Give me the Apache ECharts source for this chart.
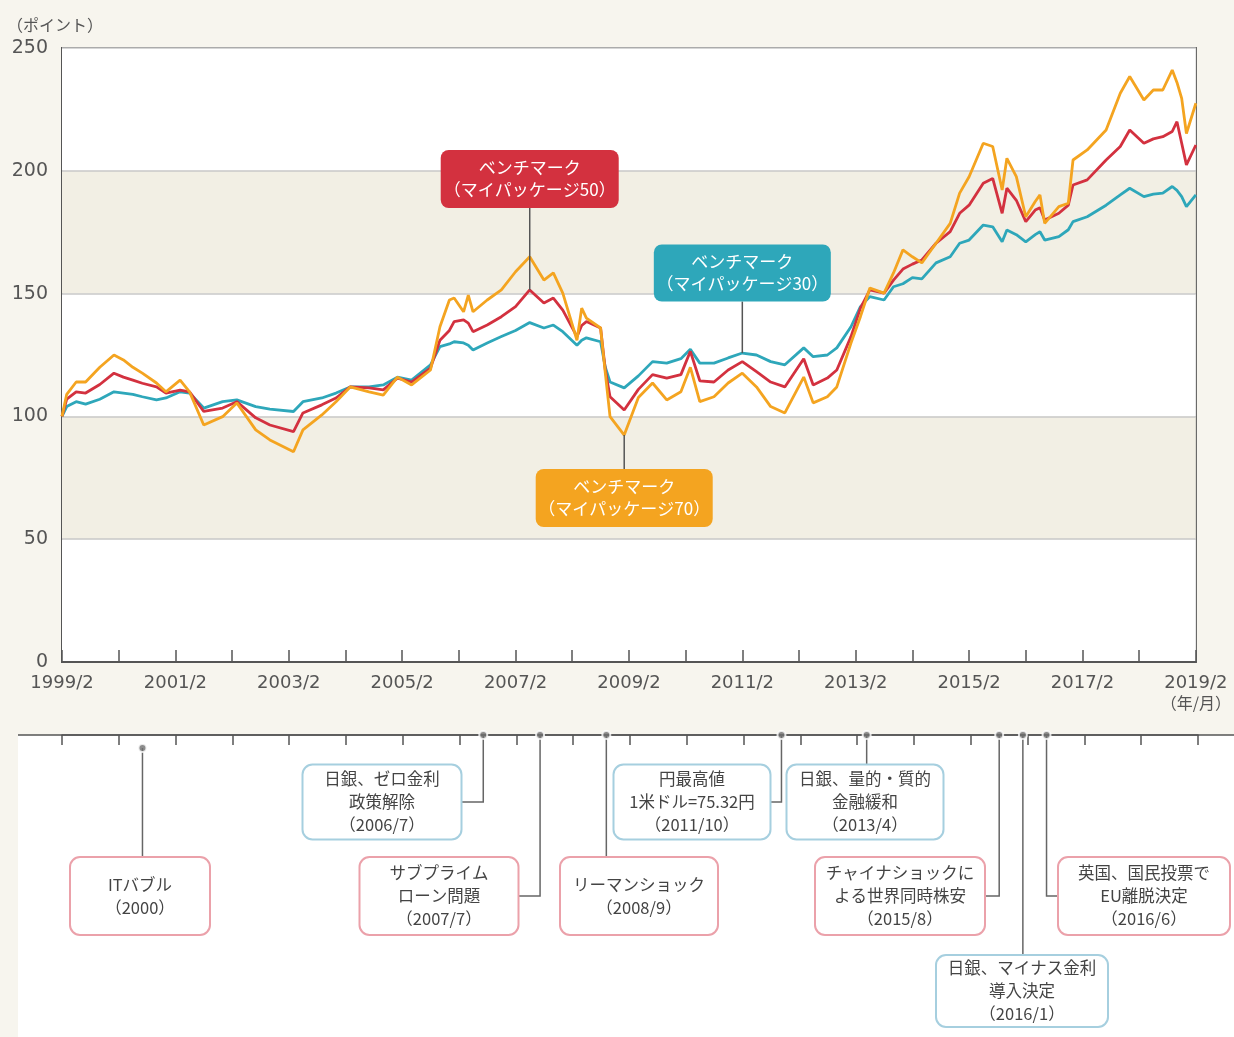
<!DOCTYPE html>
<html>
<head>
<meta charset="utf-8">
<script src="https://cdn.jsdelivr.net/npm/echarts@6/dist/echarts.min.js"></script>
<style>
html, body { margin: 0; padding: 0; background: #f7f5ee; }
#main { width: 1234px; height: 1037px; }
</style>
</head>
<body>
<div id="main"></div>
<script>
// 月次(読み取り)データ
const dates = [
  '1999/2','1999/3','1999/5','1999/7','1999/10','2000/1','2000/3','2000/5','2000/7','2000/10',
  '2000/12','2001/3','2001/5','2001/8','2001/12','2002/3','2002/7','2002/10','2003/3','2003/5',
  '2003/9','2003/12','2004/3','2004/7','2004/10','2005/1','2005/4','2005/8','2005/10','2005/12',
  '2006/1','2006/3','2006/4','2006/5','2006/8','2006/11','2007/2','2007/5','2007/8','2007/10',
  '2007/12','2008/3','2008/4','2008/5','2008/8','2008/9','2008/10','2009/1','2009/4','2009/7',
  '2009/10','2010/1','2010/3','2010/5','2010/8','2010/11','2011/2','2011/5','2011/8','2011/11',
  '2012/3','2012/5','2012/8','2012/10','2013/1','2013/3','2013/5','2013/8','2013/10','2013/12',
  '2014/2','2014/4','2014/7','2014/10','2014/12','2015/2','2015/5','2015/7','2015/9','2015/10',
  '2015/12','2016/2','2016/4','2016/5','2016/6','2016/9','2016/11','2016/12','2017/3','2017/7',
  '2017/10','2017/12','2018/3','2018/5','2018/7','2018/9','2018/10','2018/11','2018/12','2019/2'
]
const mp30 = [
  100,104,106,105,107,110,109.5,109,108,106.7,
  107.5,110,109.5,103.4,106,106.7,104,103,102,106,
  107.5,109.5,112,112,112.8,116,114.8,121,128.4,129.5,
  130.4,129.9,129,127,129.9,132.5,135,138.2,136,137.2,
  134.5,129,131,132,130.4,120,114,111.6,116.5,122.3,
  121.7,123.5,127.3,121.7,121.7,123.8,125.8,125,122.3,121,
  127.9,124.3,125,127.9,136.5,144.7,148.8,147.4,152.8,154,
  156.5,156,162.5,165,170.5,171.8,177.9,177.2,171.1,175.9,
  174,171.1,174,175.2,171.8,173.2,176,179.3,181.3,186,
  190.2,192.9,189.5,190.5,190.9,193.6,192,189.5,185.4,190.2
]
const mp50 = [
  100,107,110,109.5,113,117.6,116,114.8,113.5,112,
  109.5,110.7,110,102,103.4,106,99.4,96.5,93.8,101.4,
  104.7,107.5,112,111.6,110.8,115.6,114,119.7,131,135,
  138.6,139.3,138,134.5,137.2,140.6,144.7,151.5,146.2,148.2,
  143.3,132.5,137,138.6,136,118.9,108,102.6,111,117,
  115.6,117,126.5,114.5,114,118.9,122.3,118.2,114,112,
  123.5,112.8,115.6,118.9,132.5,144.1,151.5,150.2,155.5,160,
  162,163.7,170.5,175.2,182.7,186,194.9,196.9,182.7,192.9,
  188,179.3,184,185,180,182.7,186,194.2,196.3,204.4,
  209.9,216.6,211.2,213,213.9,216,220,211.2,202.4,210.5
]
const mp70 = [
  100,109,114,114,120,125,123,120,117.6,113.6,
  110,114.8,110,96.5,99.9,105.5,94.5,90.4,85.6,94.5,
  100.6,106,112,110,108.7,116,112.8,118.9,136.5,147.4,
  148.2,142.6,149.4,142.6,147.4,151.5,158.9,165,155.5,158.4,
  150.2,131,144.1,140,136,117.6,99.9,92.4,107.7,113.6,
  106.7,110,120,106,108,113.6,117.6,112,104,101.4,
  116,105.5,108,112,129.9,140.6,152.3,150.2,158.4,167.8,
  165,162.5,170.5,178.6,190.9,197.6,211.2,209.9,192.2,205.1,
  197.6,181.3,187.5,190.2,178.6,185.4,186.8,204.4,208.5,216.6,
  231.6,238.4,228.8,232.9,232.9,241,236,229.5,215.2,227.5
]
const seriesNames = ['ベンチマーク\n（マイパッケージ30）', 'ベンチマーク\n（マイパッケージ50）', 'ベンチマーク\n（マイパッケージ70）']
const seriesColors = ['#2ea7ba', '#d3313f', '#f4a420']

// 出来事
const eventDates = ['2000/7','2006/7','2007/7','2008/9','2011/10','2013/4','2015/8','2016/1','2016/6']
const eventLabels = [
  'ITバブル\n（2000）',
  '日銀、ゼロ金利\n政策解除\n（2006/7）',
  'サブプライム\nローン問題\n（2007/7）',
  'リーマンショック\n（2008/9）',
  '円最高値\n1米ドル=75.32円\n（2011/10）',
  '日銀、量的・質的\n金融緩和\n（2013/4）',
  'チャイナショックに\nよる世界同時株安\n（2015/8）',
  '日銀、マイナス金利\n導入決定\n（2016/1）',
  '英国、国民投票で\nEU離脱決定\n（2016/6）'
]
const eventKinds = ['risk','boj','risk','risk','boj','boj','risk','boj','risk']

// レイアウト (px): 吹き出し [アンカー日付, cy, w, h]
const calloutLayout = [
  ['2011/2', 273, 177, 57],
  ['2007/5', 179, 178, 58],
  ['2009/1', 498, 177, 58]
]
// 出来事ボックス [cx, cy, w, h, 接続辺, 点のずれ]
const eventLayout = [
  [140, 896, 140, 78, 'top', 11],
  [382, 802, 159, 75, 'right', -2],
  [439, 896, 159, 78, 'right', -2],
  [639, 896, 158, 78, 'top', -2],
  [692, 802, 157, 75, 'right', -2],
  [865, 802, 157, 75, 'top', -2],
  [900, 896, 170, 78, 'right', -2],
  [1022, 991, 172, 72, 'top', -2],
  [1144, 896, 172, 78, 'left', -2]
]

const FONT = '"Noto Sans CJK JP", "Noto Sans", sans-serif'
const NUMFONT = '"DejaVu Sans", sans-serif'

function toM(s) {
  let p = s.split('/').map(Number)
  return (p[0] - 1999) * 12 + (p[1] - 2)
}

let chart = echarts.init(document.getElementById('main'))

let lineSeries = [mp30, mp50, mp70].map((vals, i) => ({
  type: 'line',
  xAxisIndex: 0,
  yAxisIndex: 0,
  symbol: 'none',
  z: 3 + i,
  lineStyle: { color: seriesColors[i], width: 2.8 },
  data: dates.map((d, j) => [toM(d), vals[j]])
}))

let option = {
  backgroundColor: '#f7f5ee',
  animation: false,
  textStyle: { fontFamily: FONT },
  title: {
    text: '（ポイント）',
    left: 2,
    top: 12,
    textStyle: { fontSize: 16, color: '#555', fontWeight: 'normal', fontFamily: FONT }
  },
  grid: [
    { left: 62, top: 48, width: 1136, height: 614, show: true, borderColor: '#555', borderWidth: 2, backgroundColor: 'transparent' },
    { left: 62, top: 735, width: 1136, height: 300 }
  ],
  xAxis: [
    {
      type: 'value', gridIndex: 0, min: 0, max: 240, interval: 12,
      axisLine: { lineStyle: { color: '#555', width: 2 } },
      axisTick: { inside: true, length: 12, lineStyle: { color: '#555', width: 1.5 } },
      axisLabel: {
        color: '#555', fontSize: 18, margin: 12, fontFamily: NUMFONT,
        formatter: v => {
          if (v % 24 !== 0) return ''
          let s = (1999 + v / 12) + '/2'
          return v === 240 ? s + '\n{u|（年/月）}' : s
        },
        rich: { u: { fontSize: 16, color: '#555', lineHeight: 22, fontFamily: FONT } }
      },
      splitLine: { show: false }
    },
    {
      type: 'value', gridIndex: 1, min: 0, max: 240, interval: 12, position: 'top',
      axisLine: { lineStyle: { color: '#555', width: 1.5 } },
      axisTick: { inside: true, length: 10, lineStyle: { color: '#555', width: 1.5 } },
      axisLabel: { show: false },
      splitLine: { show: false }
    }
  ],
  yAxis: [
    {
      type: 'value', gridIndex: 0, min: 0, max: 250, interval: 50,
      axisLine: { show: false },
      axisTick: { show: false },
      axisLabel: { color: '#555', fontSize: 19, margin: 14, fontFamily: NUMFONT },
      splitLine: { lineStyle: { color: '#c8c8c8', width: 1.5 } },
      splitArea: { show: true, areaStyle: { color: ['#ffffff', '#f2efe4'] } }
    },
    { type: 'value', gridIndex: 1, min: 0, max: 300, inverse: true, show: false }
  ],
  series: lineSeries.concat([{
    type: 'scatter',
    xAxisIndex: 1,
    yAxisIndex: 1,
    z: 10,
    clip: false,
    symbolSize: 8,
    itemStyle: { color: '#6f6f6f', borderColor: '#fff', borderWidth: 2 },
    data: eventDates.map((d, i) => [toM(d), eventLayout[i][5] + 2])
  }])
}
chart.setOption(option)

// 吹き出しと出来事ボックス
let gfx = []
gfx.push({ type: 'rect', z: -5, silent: true, shape: { x: 18, y: 735, width: 1216, height: 302 }, style: { fill: '#ffffff' } })
gfx.push({ type: 'line', z: 5, silent: true, shape: { x1: 18, y1: 735, x2: 1234, y2: 735 }, style: { stroke: '#555', lineWidth: 1.5 } })

let seriesVals = [mp30, mp50, mp70]
calloutLayout.forEach((c, i) => {
  let idx = dates.indexOf(c[0])
  let p = chart.convertToPixel({ gridIndex: 0 }, [toM(c[0]), seriesVals[i][idx]])
  let cy = c[1], w = c[2], h = c[3]
  let edge = cy < p[1] ? cy + h / 2 : cy - h / 2
  gfx.push({ type: 'line', z: 20, silent: true, shape: { x1: p[0], y1: p[1], x2: p[0], y2: edge }, style: { stroke: '#555', lineWidth: 1.5 } })
  gfx.push({ type: 'rect', z: 21, silent: true, shape: { x: p[0] - w / 2, y: cy - h / 2, width: w, height: h, r: 8 }, style: { fill: seriesColors[i] } })
  gfx.push({
    type: 'text', z: 22, silent: true,
    style: { text: seriesNames[i], x: p[0], y: cy, fill: '#fff', font: '17px ' + FONT, lineHeight: 22,
      align: 'center', verticalAlign: 'middle', textAlign: 'center', textVerticalAlign: 'middle' }
  })
})

eventLayout.forEach((e, i) => {
  let px = chart.convertToPixel({ gridIndex: 1 }, [toM(eventDates[i]), e[5] + 2])
  let cx = e[0], cy = e[1], w = e[2], h = e[3]
  let pts
  if (e[4] === 'top') pts = [[px[0], px[1]], [px[0], cy - h / 2]]
  else if (e[4] === 'right') pts = [[px[0], px[1]], [px[0], cy], [cx + w / 2, cy]]
  else pts = [[px[0], px[1]], [px[0], cy], [cx - w / 2, cy]]
  gfx.push({ type: 'polyline', z: 6, silent: true, shape: { points: pts }, style: { stroke: '#666', lineWidth: 1.5, fill: null } })
  gfx.push({
    type: 'rect', z: 7, silent: true,
    shape: { x: cx - w / 2, y: cy - h / 2, width: w, height: h, r: 10 },
    style: { fill: '#fff', stroke: eventKinds[i] === 'risk' ? '#eba1aa' : '#a6cfdf', lineWidth: 2 }
  })
  gfx.push({
    type: 'text', z: 8, silent: true,
    style: { text: eventLabels[i], x: cx, y: cy, fill: '#444', font: '16.5px ' + FONT, lineHeight: 23,
      align: 'center', verticalAlign: 'middle', textAlign: 'center', textVerticalAlign: 'middle' }
  })
})

chart.setOption({ graphic: { elements: gfx } })
</script>
</body>
</html>
